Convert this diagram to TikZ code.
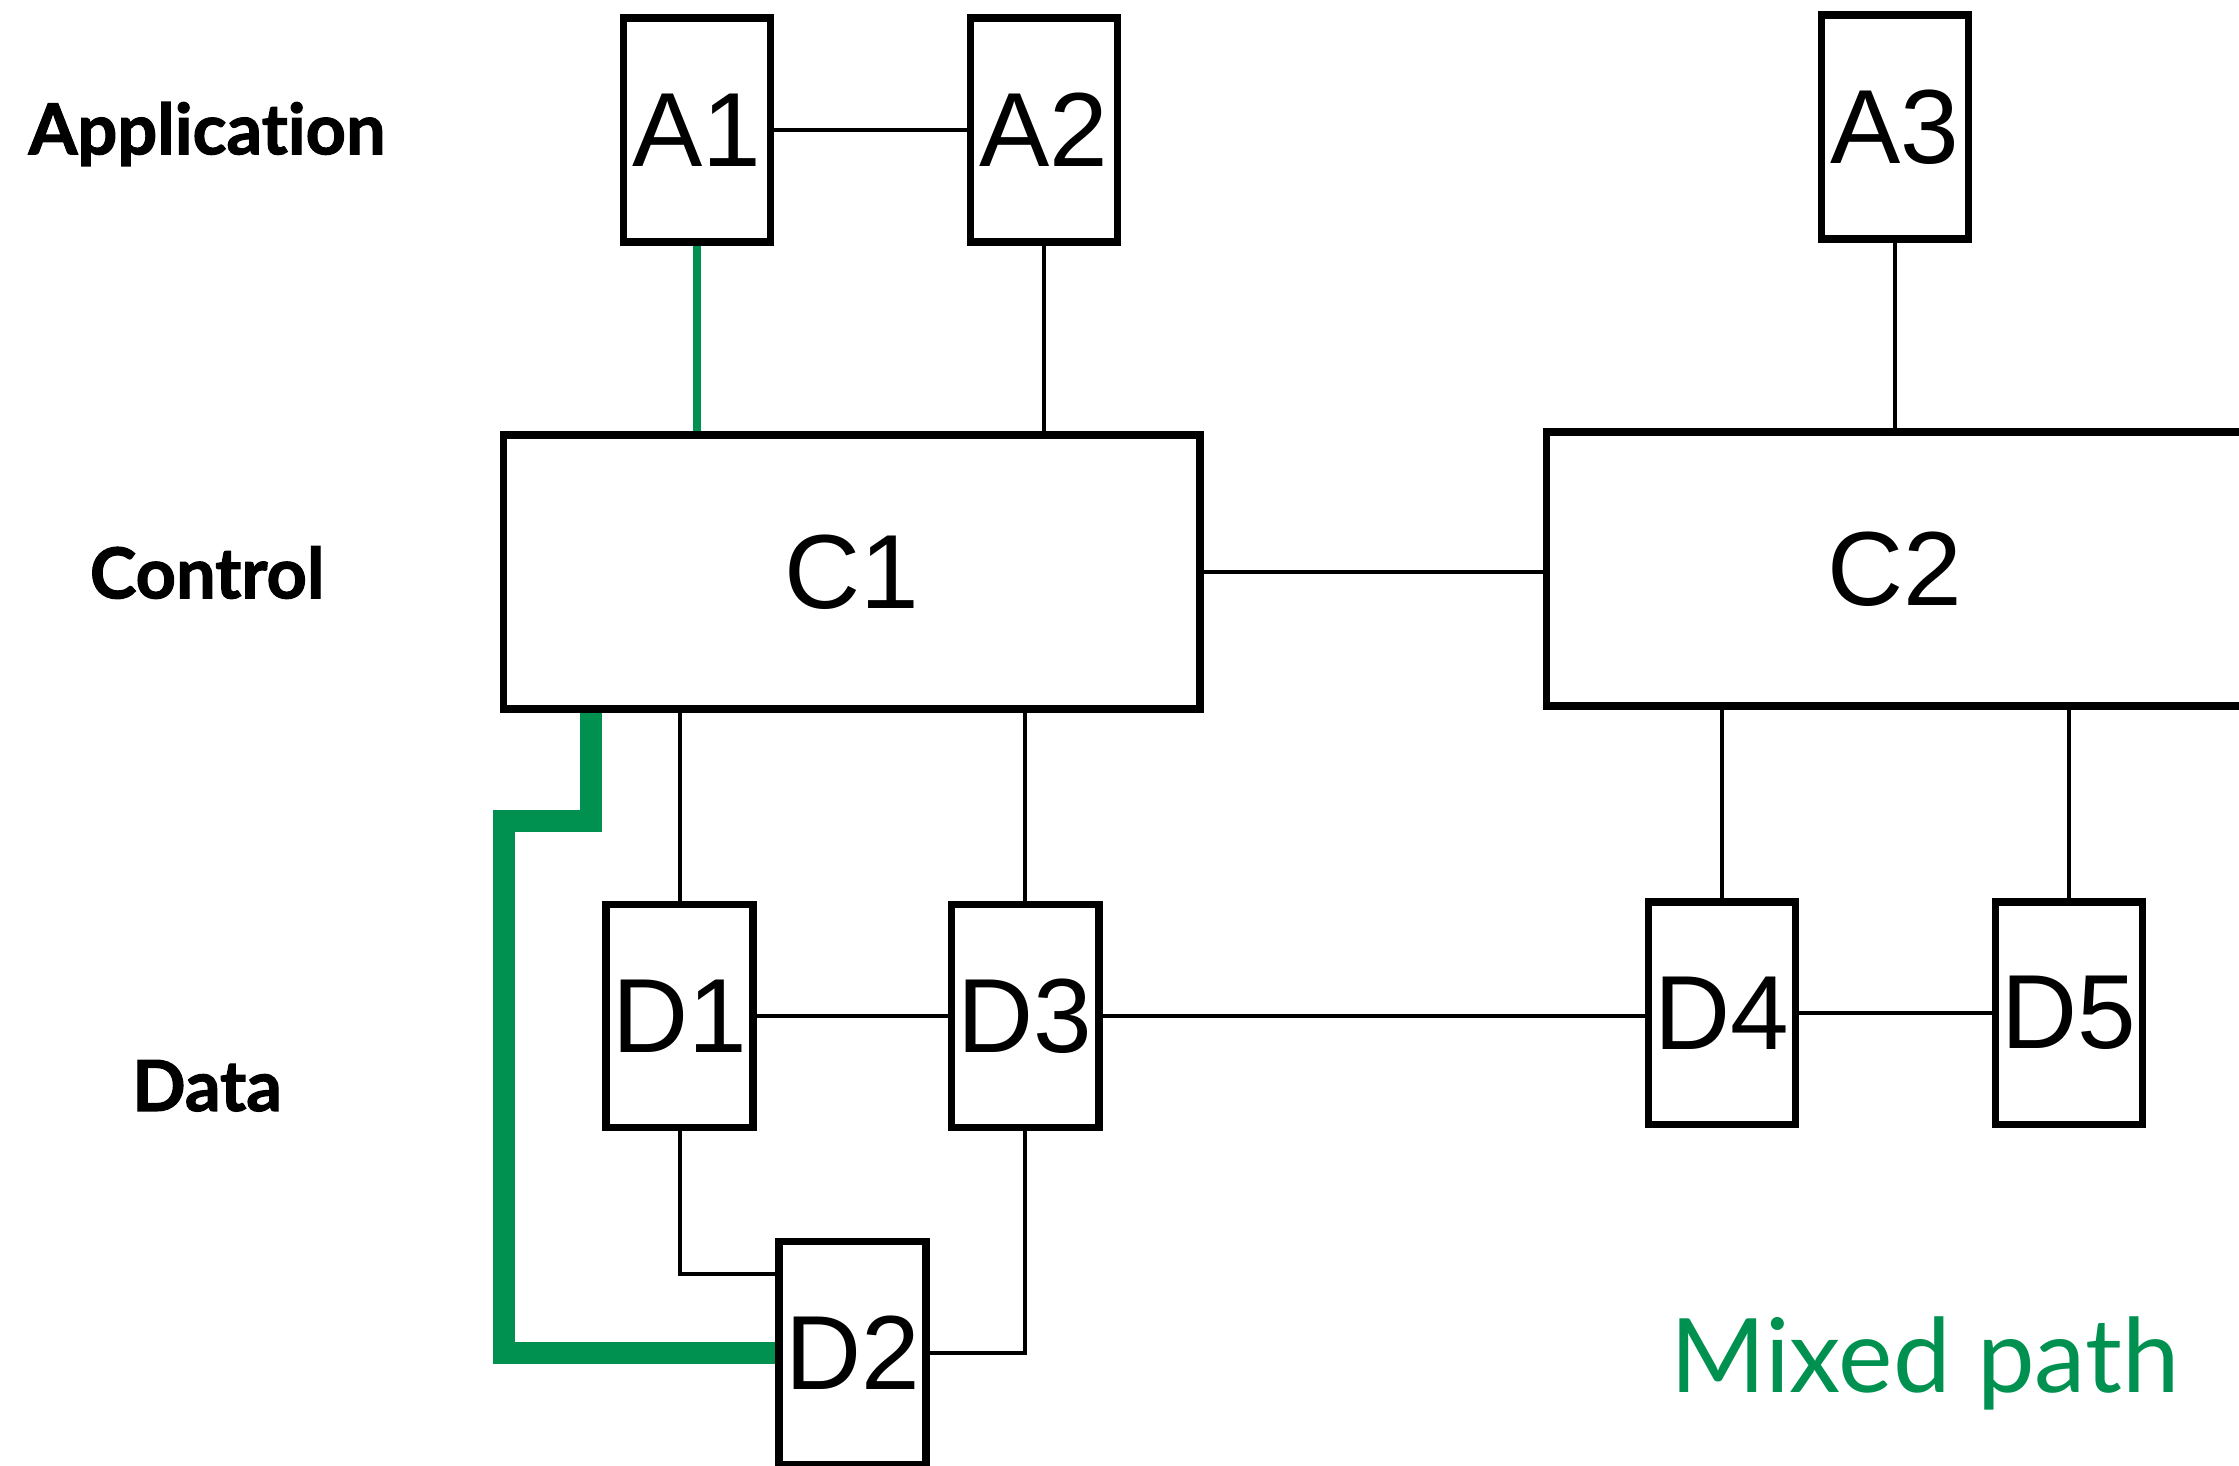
\documentclass[tikz,border=0pt]{standalone}
\usepackage{fontspec}
\setmainfont{Liberation Sans}
\newfontfamily\layerfont{Lato}[Ligatures=CommonOff, BoldFeatures={FakeBold=1.6}]
\usepackage{xcolor}
\usepackage{tikz}
\usetikzlibrary{positioning,calc}
\definecolor{pathgreen}{RGB}{0,145,80}
\tikzset{
  px/.style={x=0.1mm, y=-0.1mm},
  n box/.style={draw, line width=1.5pt, inner sep=0pt, font=\fontsize{21}{25}\selectfont},
  n app/.style={n box, minimum width=10.3mm, minimum height=15.7mm},
  n ctl/.style={n box, minimum width=48.8mm, minimum height=19.2mm},
  n dat/.style={n box, minimum width=10.3mm, minimum height=15.6mm},
  n layer/.style={font=\layerfont\bfseries\fontsize{14}{17}\selectfont, anchor=base},
  n note/.style={font=\layerfont\fontsize{20.5}{24}\selectfont, text=pathgreen, anchor=base},
  l link/.style={line width=0.8pt},
  l green/.style={draw=pathgreen, line width=1.7pt},
  l mixed/.style={draw=pathgreen, line width=4.4pt},
}

\begin{document}
\begin{tikzpicture}[px]
\clip (0,0) rectangle (1568,1026);
% ---- layer names ----
\node[n layer] (lapp) at (145,108) {Application};
\node[n layer] (lctl) at (145,419) {Control};
\node[n layer] (ldat) at (145,778) {Data};
% ---- application ----
\node[n app] (a1) at (488,91) {A1};
\node[n app] (a2) at (731,91) {A2};
\node[n app] (a3) at (1327,89) {A3};
% ---- control ----
\node[n ctl] (c1) at (596.5,400.5) {C1};
\node[n ctl] (c2) at (1327,398.5) {C2};
% ---- data ----
\node[n dat] (d1) at (476,711.5) {D1};
\node[n dat] (d3) at (718,711.5) {D3};
\node[n dat] (d4) at (1206,709.5) {D4};
\node[n dat] (d5) at (1449,709.5) {D5};
\node[n dat] (d2) at (597,947.5) {D2};
\node[n note] (mix) at (1348,975) {Mixed path};
% ---- links ----
\draw[l link] (a1) -- (a2);
\draw[l link] (a2.south) -- (a2.south |- c1.north);
\draw[l link] (a3.south) -- (a3.south |- c2.north);
\draw[l link] (c1.east) -- (c1.east -| c2.west);
\draw[l link] (d1.north) -- (d1.north |- c1.south);
\draw[l link] (d3.north) -- (d3.north |- c1.south);
\draw[l link] (d4.north) -- (d4.north |- c2.south);
\draw[l link] (d5.north) -- (d5.north |- c2.south);
\draw[l link] (d1) -- (d3);
\draw[l link] (d3.east) -- (d3.east -| d4.west);
\draw[l link] (d4) -- (d5);
\draw[l link] (d1.south) |- ([yshift=-2.5mm]d2.north west);
\draw[l link] (d3.south) |- (d2.east);
% ---- mixed path ----
\draw[l green] (a1.south) -- (a1.south |- c1.north);
\draw[l mixed] ([xshift=6.4mm]c1.south west) -- ++(0,76) -- ++(-61,0) |- (d2.west);
\end{tikzpicture}
\end{document}
